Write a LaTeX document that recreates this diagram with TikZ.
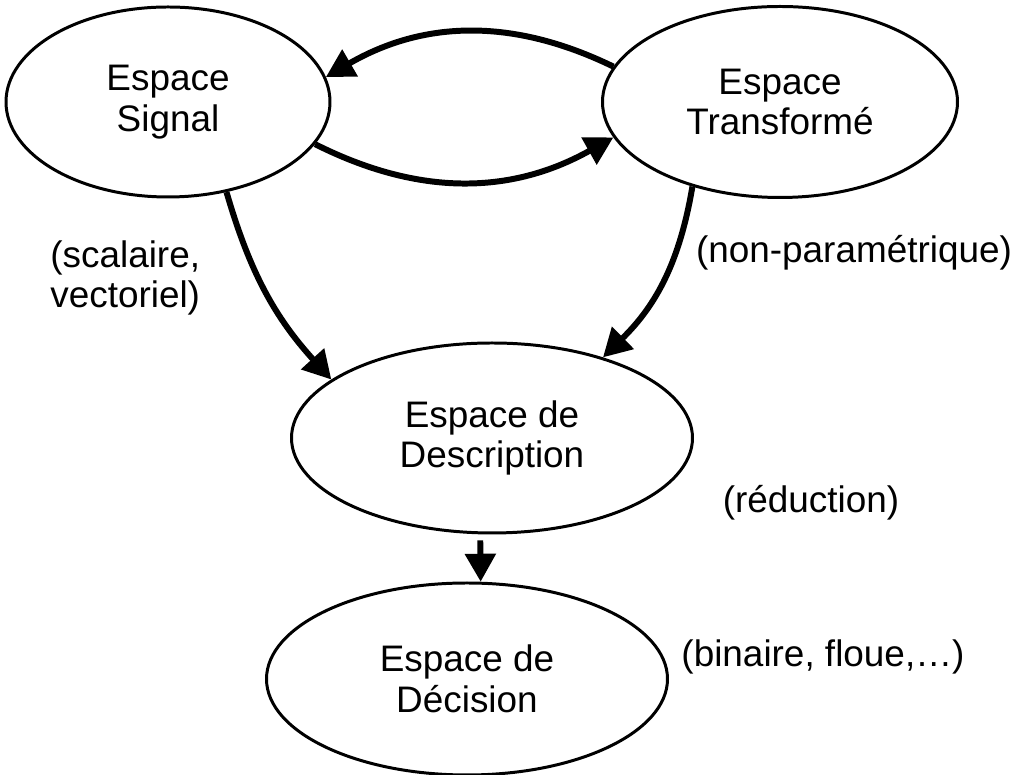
\documentclass[tikz,border=0pt]{standalone}
\usepackage{fontspec}
\setmainfont{Liberation Sans}
\usetikzlibrary{arrows.meta,shapes.geometric}

\begin{document}
\begin{tikzpicture}
    \useasboundingbox (0,0) rectangle (20.48,15.5);
    \begin{scope}[every node/.style={ellipse,draw=black,line width=1.7pt,inner sep=0pt,
                  align=center,font=\fontsize{21}{23}\selectfont}]
        \node[minimum width=6.48cm,minimum height=3.8cm] (sig) at (3.36,13.46) {Espace\\Signal};
        \node[minimum width=7.1cm,minimum height=3.82cm] (trans) at (15.6,13.46) {Espace\\Transformé};
        \node[minimum width=8.02cm,minimum height=3.8cm] (desc) at (9.84,6.74) {Espace de\\Description};
        \node[minimum width=8.02cm,minimum height=3.84cm] (dec) at (9.34,1.92) {Espace de\\Décision};
    \end{scope}

    \begin{scope}[every node/.style={inner sep=0pt,font=\fontsize{21}{23}\selectfont}]
        \node[anchor=west,align=left] (scal) at (1.0,9.94) {(scalaire,\\vectoriel)};
        \node (nonpar) at (17.08,10.44) {(non-paramétrique)};
        \node (reduc) at (16.22,5.44) {(réduction)};
        \node (bin) at (16.46,2.36) {(binaire, floue,…)};
    \end{scope}

    \begin{scope}[>={Triangle[length=5.6mm,width=6mm]},
                  every edge/.style={draw=black,line width=3.4pt}]
        \path [->] (trans.168) edge [bend right=28] (sig.9);
        \path [->] (sig.-16) edge [bend right=28] (trans.-168);
        \path [->] (sig.-57) edge [bend right=13] (desc.160);
        \path [->] (trans.224) edge [bend left=18] (desc.36);
        \path [->] (desc.-97) edge [shorten <=0.12cm] (dec.82);
    \end{scope}
\end{tikzpicture}
\end{document}
